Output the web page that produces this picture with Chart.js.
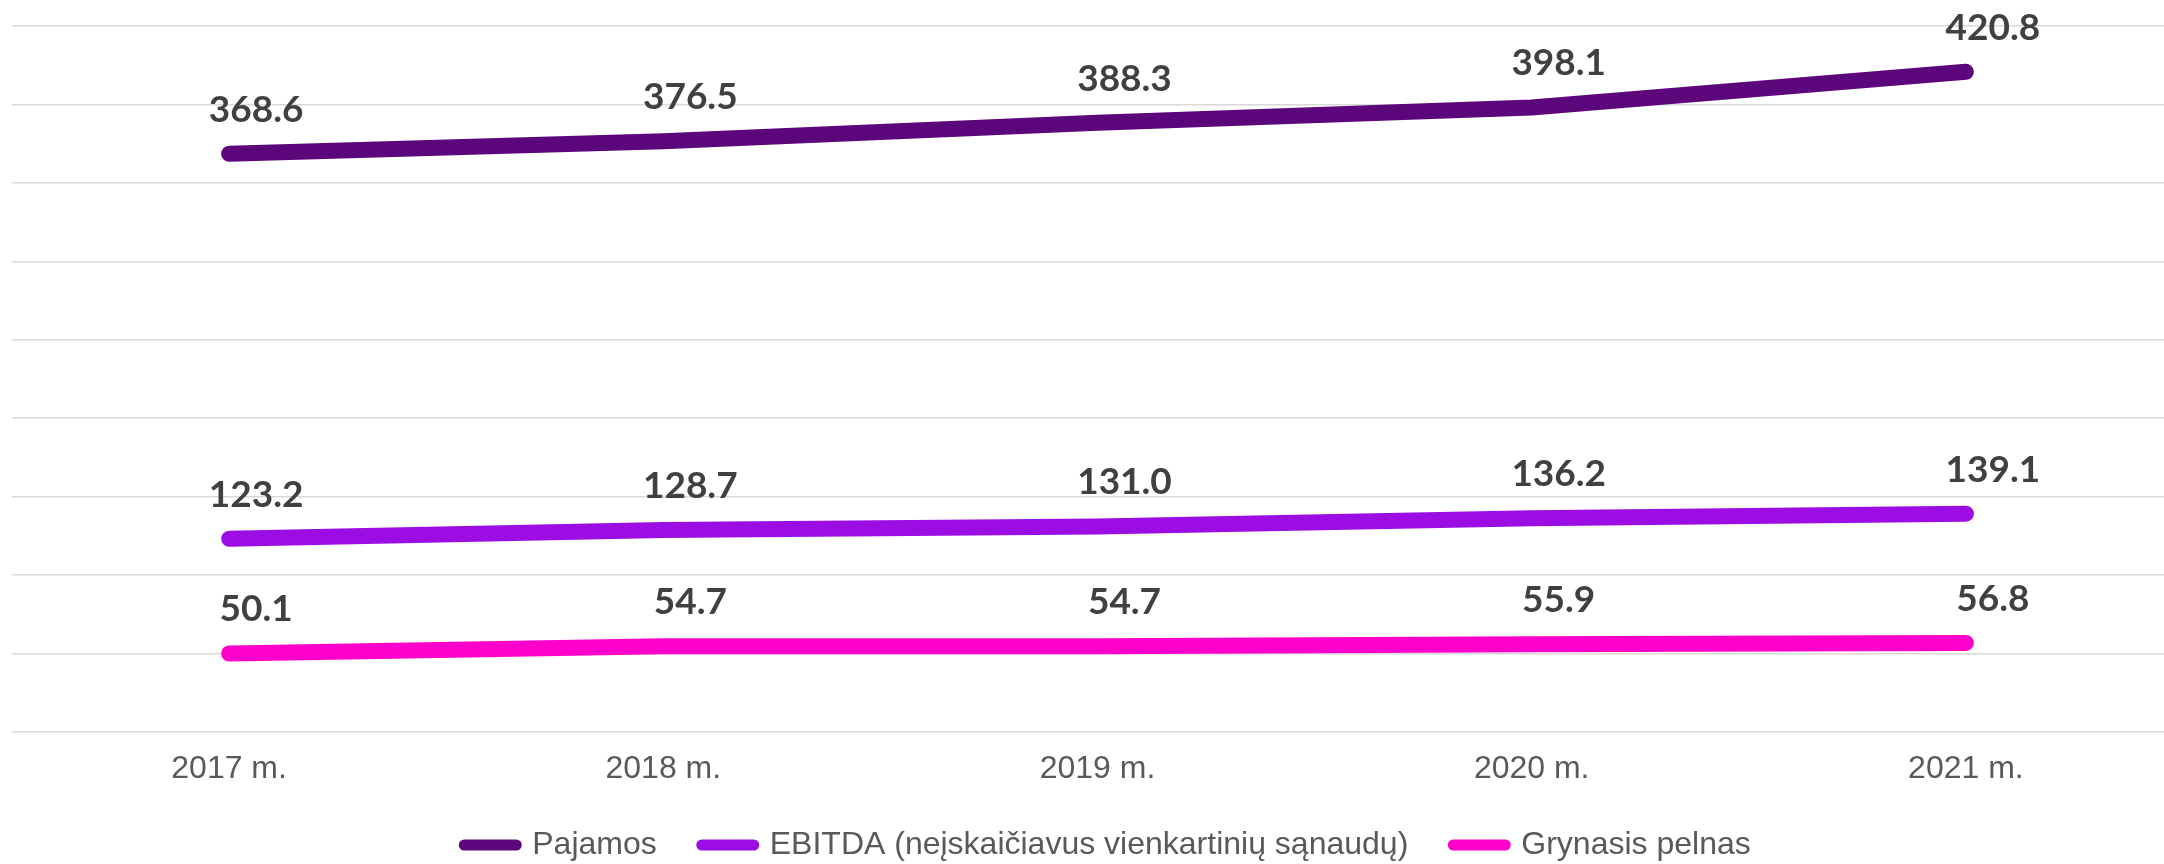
<!DOCTYPE html>
<html>
<head>
<meta charset="utf-8">
<script src="https://cdn.jsdelivr.net/npm/chart.js@4.4.1/dist/chart.umd.min.js"></script>
<style>
  html, body { margin: 0; padding: 0; background: #ffffff; overflow: hidden; }
  #wrap { width: 2203px; height: 864px; }
</style>
</head>
<body>
<div id="wrap"><canvas id="chart"></canvas></div>
<script>
  // values
  const years = ['2017 m.', '2018 m.', '2019 m.', '2020 m.', '2021 m.'];
  const pajamos = [368.6, 376.5, 388.3, 398.1, 420.8];
  const ebitda = [123.2, 128.7, 131.0, 136.2, 139.1];
  const grynasisPelnas = [50.1, 54.7, 54.7, 55.9, 56.8];
  const yMax = 450;
  const yStep = 50;

  // draws the bold value above every point
  const valueLabels = {
    id: 'valueLabels',
    afterDatasetsDraw(chart) {
      const ctx = chart.ctx;
      ctx.save();
      ctx.font = 'bold 37px Lato';
      ctx.fillStyle = '#404040';
      ctx.textAlign = 'center';
      ctx.textBaseline = 'middle';
      chart.data.datasets.forEach((ds, i) => {
        chart.getDatasetMeta(i).data.forEach((pt, j) => {
          ctx.fillText(ds.data[j].toFixed(1), pt.x + 27, pt.y - 44);
        });
      });
      ctx.restore();
    }
  };

  function makeLine(label, data, color) {
    return {
      label,
      data,
      borderColor: color,
      backgroundColor: color,
      borderWidth: 16,
      borderCapStyle: 'round',
      borderJoinStyle: 'round',
      pointRadius: 0,
      pointHoverRadius: 0,
      tension: 0,
      fill: false
    };
  }

  new Chart(document.getElementById('chart'), {
    type: 'line',
    data: {
      labels: years,
      datasets: [
        makeLine('Pajamos', pajamos, '#5c067c'),
        makeLine('EBITDA (neįskaičiavus vienkartinių sąnaudų)', ebitda, '#9b0de2'),
        makeLine('Grynasis pelnas', grynasisPelnas, '#ff00cc')
      ]
    },
    options: {
      responsive: true,
      maintainAspectRatio: false,
      animation: false,
      // bottom is negative so the legend sits as low as in the original
      layout: { padding: { left: 12, right: 0, top: 26, bottom: -7 } },
      scales: {
        x: {
          offset: true,
          grid: { display: false, drawTicks: false },
          border: { display: false },
          ticks: {
            color: '#595959',
            padding: 18,
            font: { family: 'Liberation Sans', size: 32 }
          },
          afterFit(scale) { scale.height = 52; }
        },
        y: {
          position: 'right',
          min: 0,
          max: yMax,
          ticks: { stepSize: yStep, display: false },
          grid: { color: '#d9d9d9', lineWidth: 1.5, drawTicks: false },
          border: { display: false },
          afterFit(scale) { scale.width = 20; }
        }
      },
      plugins: {
        legend: {
          position: 'bottom',
          labels: {
            color: '#595959',
            font: { family: 'Liberation Sans', size: 32 },
            usePointStyle: true,
            pointStyle: 'line',
            pointStyleWidth: 52,
            padding: 45,
            generateLabels(chart) {
              const items = Chart.defaults.plugins.legend.labels.generateLabels(chart);
              items.forEach(it => { it.lineWidth = 11; it.lineCap = 'round'; });
              return items;
            }
          }
        },
        tooltip: { enabled: false }
      }
    },
    plugins: [valueLabels]
  });
</script>
</body>
</html>
